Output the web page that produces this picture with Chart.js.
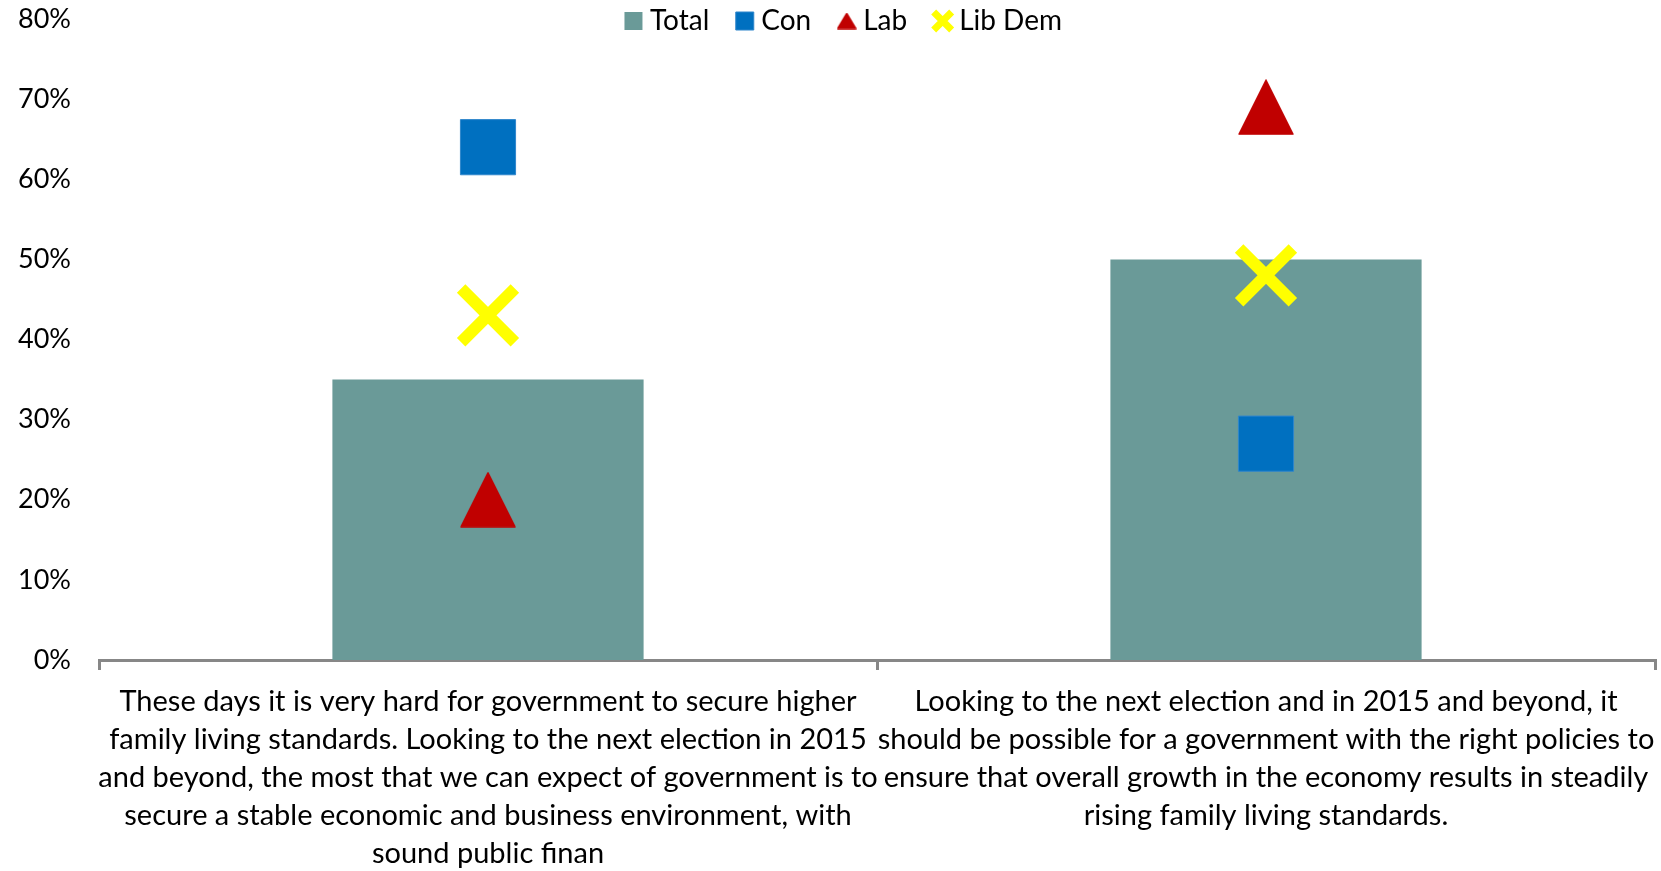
<!DOCTYPE html>
<html>
<head>
<meta charset="utf-8">
<script src="https://cdn.jsdelivr.net/npm/chart.js@4.4.0/dist/chart.umd.min.js"></script>
<style>
  html, body { margin: 0; padding: 0; background: #ffffff; }
  #wrap { position: relative; width: 1661px; height: 871px; }
</style>
</head>
<body>
<div id="wrap"><canvas id="chart"></canvas></div>
<script>
// Category labels (pre-wrapped lines)
const categories = [
  [
    "These days it is very hard for government to secure higher",
    "family living standards. Looking to the next election in 2015",
    "and beyond, the most that we can expect of government is to",
    "secure a stable economic and business environment, with",
    "sound public finan"
  ],
  [
    "Looking to the next election and in 2015 and beyond, it",
    "should be possible for a government with the right policies to",
    "ensure that overall growth in the economy results in steadily",
    "rising family living standards."
  ]
];

// Share agreeing, in percent
const totalValues  = [35, 50];
const conValues    = [64, 27];
const labValues    = [20, 69];
const libDemValues = [43, 48];

// Value axis
const yMin = 0;
const yMax = 80;
const yStep = 10;

const FONT = 'Lato';

// Upright isosceles triangle marker, centred on its box
function triangleMark(w, h, color) {
  const c = document.createElement('canvas');
  c.width = w;
  c.height = h;
  const g = c.getContext('2d');
  g.fillStyle = color;
  g.strokeStyle = color;
  g.lineJoin = 'round';
  g.lineWidth = 1.5;
  g.beginPath();
  g.moveTo(w / 2, 1);
  g.lineTo(w - 1, h - 1);
  g.lineTo(1, h - 1);
  g.closePath();
  g.fill();
  g.stroke();
  return c;
}
const LAB_RED = '#C00000';
const labMark = triangleMark(56, 56, LAB_RED);
const labLegendMark = triangleMark(20, 17, LAB_RED);

// Keep the legend from taking room above the plot: it sits over the top strip.
const legendOverlay = {
  id: 'legendOverlay',
  beforeLayout(chart) {
    const lg = chart.legend;
    if (lg && !lg._flatFit) {
      const fit = lg.fit.bind(lg);
      lg.fit = function () { fit(); this.height = 0; };
      lg._flatFit = true;
    }
  },
  afterLayout(chart) {
    const lg = chart.legend;
    if (!lg) return;
    lg.left = 32;
    lg.right = chart.width;
    lg.width = lg.right - lg.left;
    lg.top = -26;
    lg.bottom = 60;
    lg.height = lg.bottom - lg.top;
  }
};

new Chart(document.getElementById('chart'), {
  type: 'bar',
  data: {
    labels: categories,
    datasets: [
      {
        label: 'Total',
        data: totalValues,
        backgroundColor: '#6A9A98',
        borderWidth: 0,
        pointStyle: 'rect',
        categoryPercentage: 0.4,
        barPercentage: 1.0,
        order: 2
      },
      {
        type: 'line',
        label: 'Con',
        data: conValues,
        showLine: false,
        pointStyle: 'rect',
        pointRadius: 39,
        pointHoverRadius: 39,
        backgroundColor: '#0070C0',
        borderColor: '#2F86CC',
        borderWidth: 1,
        order: 1
      },
      {
        type: 'line',
        label: 'Lab',
        data: labValues,
        showLine: false,
        pointStyle: labMark,
        pointRadius: 28,
        pointHoverRadius: 28,
        backgroundColor: LAB_RED,
        borderColor: LAB_RED,
        borderWidth: 1,
        order: 1
      },
      {
        type: 'line',
        label: 'Lib Dem',
        data: libDemValues,
        showLine: false,
        pointStyle: 'crossRot',
        pointRadius: 38,
        pointHoverRadius: 38,
        backgroundColor: '#FFFF00',
        borderColor: '#FFFF00',
        borderWidth: 12,
        order: 1
      }
    ]
  },
  options: {
    responsive: true,
    maintainAspectRatio: false,
    animation: false,
    layout: { autoPadding: false, padding: { top: 19, right: 6, left: 0, bottom: 0 } },
    plugins: {
      tooltip: { enabled: false },
      legend: {
        position: 'top',
        labels: {
          usePointStyle: true,
          boxWidth: 5,
          boxHeight: 18,
          padding: 33,
          color: '#000000',
          font: { family: FONT, size: 28 },
          sort: (a, b) => a.datasetIndex - b.datasetIndex,
          generateLabels(chart) {
            const items = Chart.defaults.plugins.legend.labels.generateLabels(chart);
            items.forEach(it => {
              if (it.pointStyle === 'crossRot') it.lineWidth = 7;
              if (it.text === 'Total') it.lineWidth = 0;
              if (it.text === 'Lab') it.pointStyle = labLegendMark;
            });
            return items;
          }
        }
      }
    },
    scales: {
      x: {
        offset: true,
        grid: {
          offset: true,
          drawOnChartArea: false,
          drawTicks: true,
          tickLength: 10,
          color: '#878787',
          lineWidth: 3
        },
        border: { display: true, color: '#878787', width: 3 },
        afterFit(scale) {
          scale.height = 211;
          scale.paddingLeft = 0;
          scale.paddingRight = 0;
        },
        ticks: {
          color: '#000000',
          padding: 13,
          maxRotation: 0,
          autoSkip: false,
          font: { family: FONT, size: 29, lineHeight: '38px' }
        }
      },
      y: {
        min: yMin,
        max: yMax,
        grid: { display: false, drawTicks: true, tickLength: 28 },
        border: { display: false },
        afterFit(scale) {
          scale.width = 99;
          scale.paddingTop = 17;
          scale.paddingBottom = 17;
        },
        ticks: {
          stepSize: yStep,
          padding: 0,
          color: '#000000',
          font: { family: FONT, size: 27 },
          callback: v => v + '%'
        }
      }
    }
  },
  plugins: [legendOverlay]
});
</script>
</body>
</html>
